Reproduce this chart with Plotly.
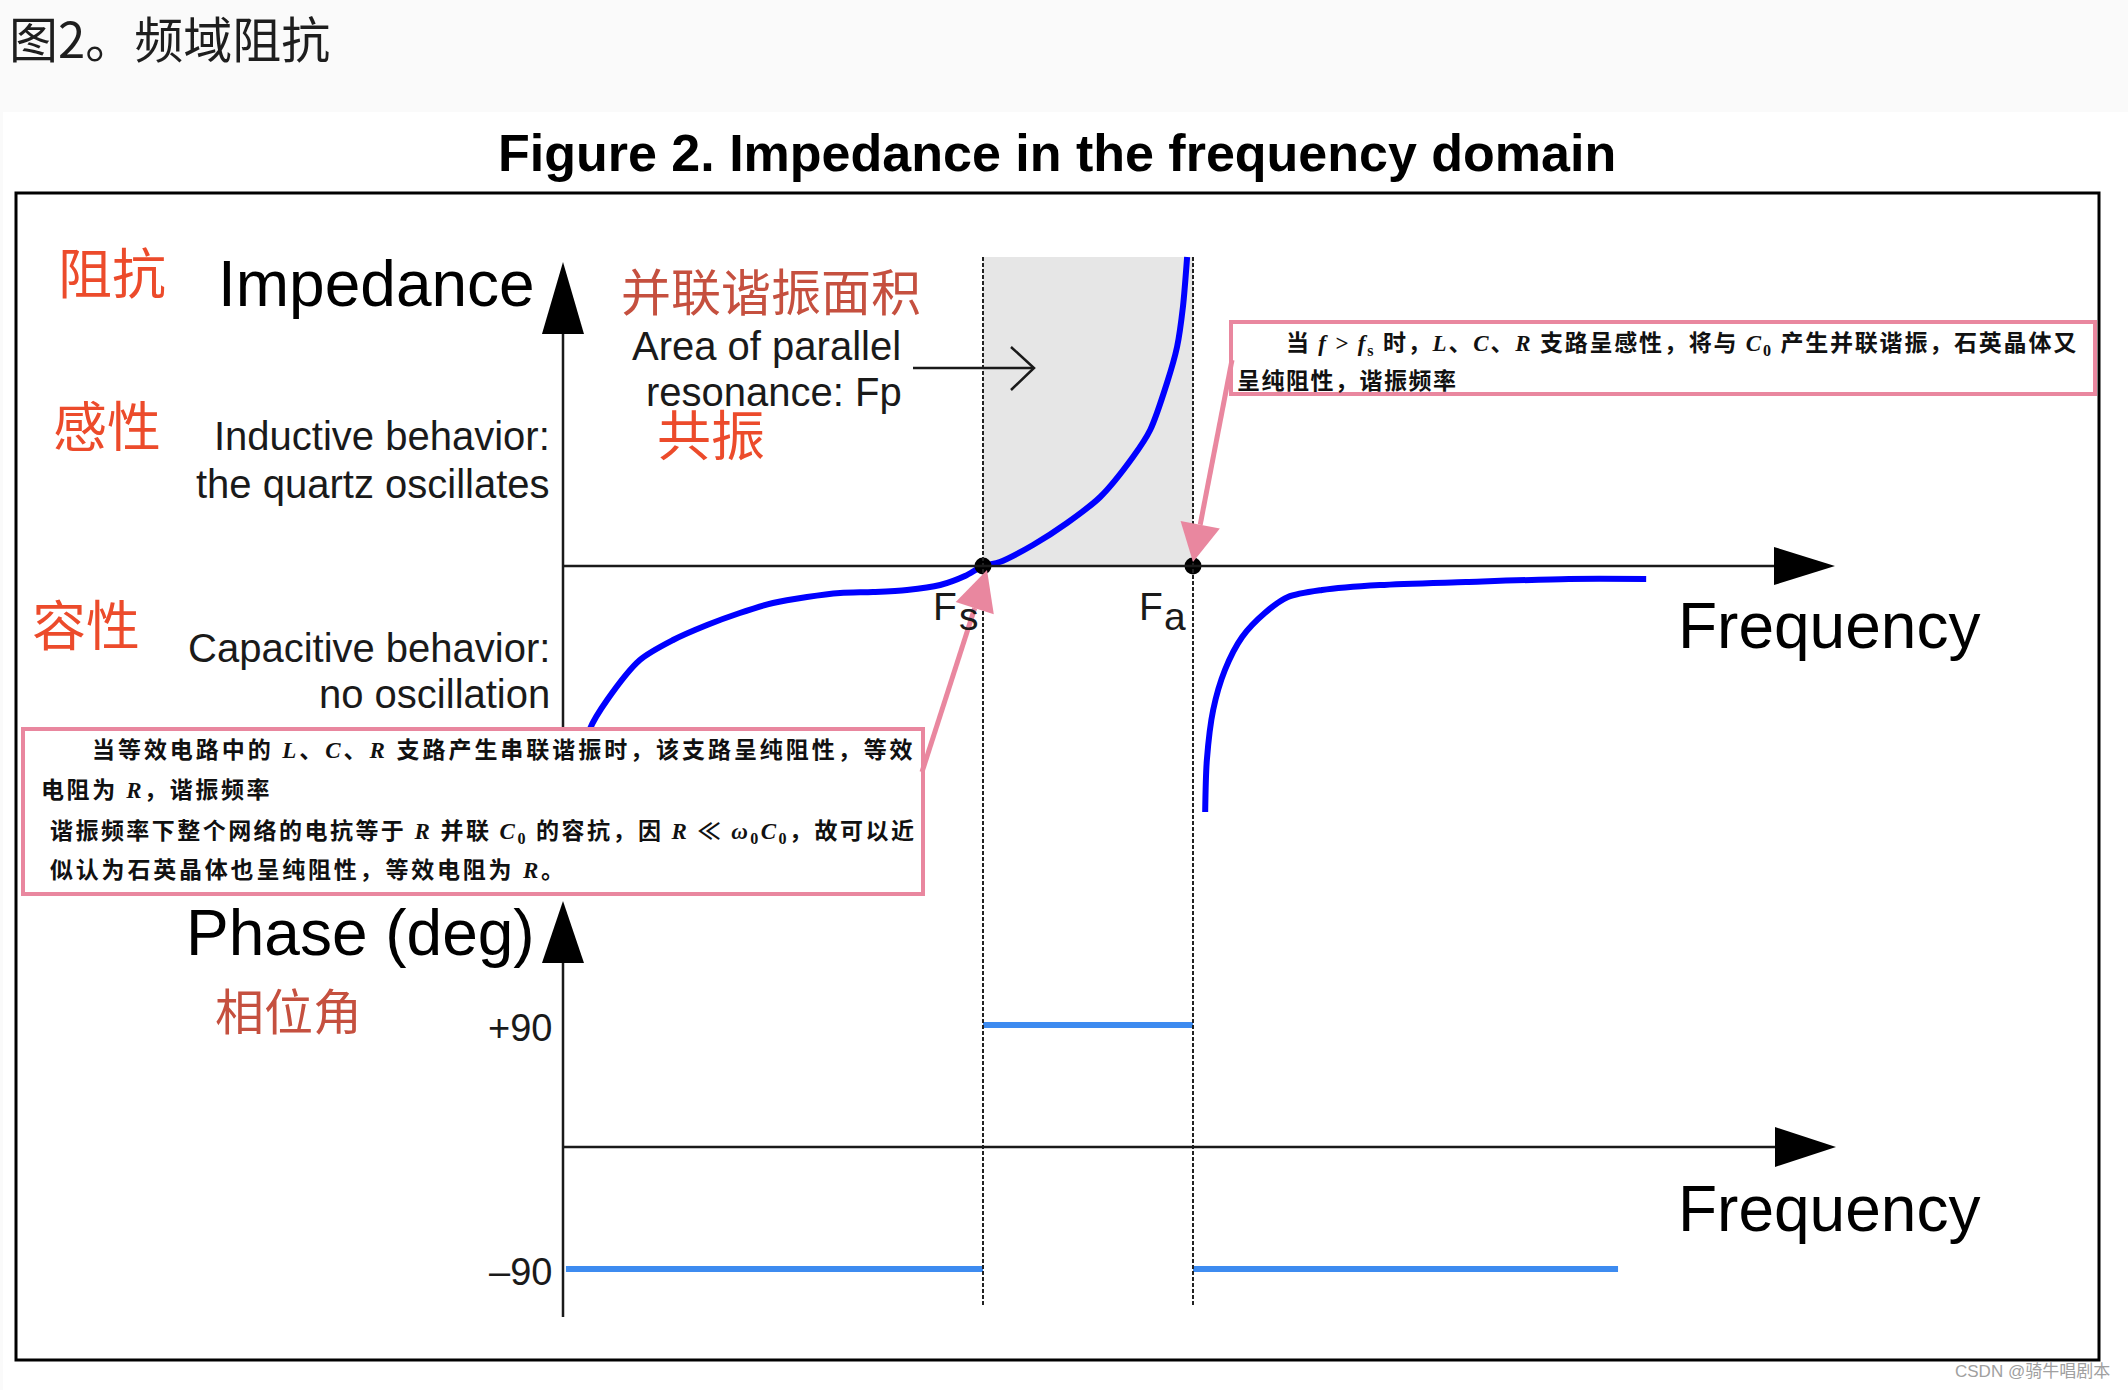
import math
import plotly.graph_objects as go

W, H = 2128, 1390

# ---------------- data ----------------
fs = 1.0   # series resonance frequency Fs
fa = 1.5   # parallel resonance frequency Fa

# impedance branch up to Fa (capacitive below Fs, inductive between Fs and Fa)
branch1_freq = [0.055, 0.064, 0.105, 0.183, 0.262, 0.343, 0.421, 0.500, 0.581, 0.660,
                0.738, 0.819, 0.898, 0.957, 1.000, 1.040, 1.119, 1.200, 1.279, 1.357,
                1.398, 1.438, 1.462, 1.476, 1.486]
branch1_imp = [-1.79, -1.63, -1.34, -0.94, -0.74, -0.59, -0.47, -0.37, -0.31, -0.27,
               -0.26, -0.24, -0.19, -0.10, 0.00, 0.04, 0.21, 0.43, 0.69, 1.09,
               1.36, 1.83, 2.19, 2.59, 3.09]

# impedance branch above Fa
branch2_freq = [1.529, 1.533, 1.548, 1.576, 1.617, 1.671, 1.726, 1.807, 1.945, 2.150, 2.395, 2.579]
branch2_imp = [-2.46, -1.94, -1.44, -1.04, -0.71, -0.47, -0.31, -0.24, -0.19, -0.16, -0.13, -0.13]

# phase (deg) segments
phase_freq = [0.007, 1.0, None, 1.0, 1.5, None, 1.5, 2.512]
phase_deg = [-90, -90, None, 90, 90, None, -90, -90]

phase_tick_vals = [90, -90]
phase_tick_text = ["+90", "–90"]

# ---------------- frame geometry (pixels) ----------------
X0_PX = 563
XPX_PER_UNIT = 420
X_MAX = (1835 - X0_PX) / XPX_PER_UNIT
YI0_PX = 566
YPX_PER_IMP = 100
YP0_PX = 1147
YPX_PER_DEG = 122 / 90


def px(x):
    return x / W


def py(y):
    return 1 - y / H


SANS = "Liberation Sans, Arial, sans-serif"
CJK = "Noto Sans CJK SC, sans-serif"
BOXF = "Liberation Serif, Noto Sans CJK SC, serif"
RED = "#ec4b2b"
BROWN = "#c5503f"
PINK = "#e9879f"
BLUE = "#0000ff"
PBLUE = "#3d8bf0"
INK = "#1a1a1a"

fig = go.Figure()

# impedance curves
fig.add_trace(go.Scatter(x=branch1_freq, y=branch1_imp, mode="lines",
                         line=dict(color=BLUE, width=6, shape="spline", smoothing=0.8),
                         xaxis="x", yaxis="y", hoverinfo="skip", showlegend=False))
fig.add_trace(go.Scatter(x=branch2_freq, y=branch2_imp, mode="lines",
                         line=dict(color=BLUE, width=6, shape="spline", smoothing=0.8),
                         xaxis="x", yaxis="y", hoverinfo="skip", showlegend=False))
# phase
fig.add_trace(go.Scatter(x=phase_freq, y=phase_deg, mode="lines",
                         line=dict(color=PBLUE, width=6),
                         xaxis="x", yaxis="y2", hoverinfo="skip", showlegend=False))
# Fs / Fa points
fig.add_trace(go.Scatter(x=[fs, fa], y=[0, 0], mode="markers",
                         marker=dict(color="black", size=17),
                         xaxis="x", yaxis="y", hoverinfo="skip", showlegend=False))

shapes = []
# background
shapes.append(dict(type="rect", xref="paper", yref="paper", x0=px(3), x1=1, y0=0, y1=py(112),
                   fillcolor="white", line=dict(width=0), layer="below"))
# shaded parallel-resonance area
shapes.append(dict(type="rect", xref="x", yref="y", x0=fs, x1=fa, y0=0, y1=max(branch1_imp),
                   fillcolor="#e6e6e6", line=dict(width=0), layer="below"))

# dotted verticals at Fs and Fa
for f in (fs, fa):
    shapes.append(dict(type="line", xref="x", yref="paper", x0=f, x1=f, y0=py(1305), y1=py(257),
                       line=dict(color="#222222", width=2, dash="4px,2px"), layer="above"))


def line_px(x0, y0, x1, y1, color, width):
    return dict(type="line", xref="paper", yref="paper", x0=px(x0), y0=py(y0), x1=px(x1), y1=py(y1),
                line=dict(color=color, width=width), layer="above")


def poly_px(points, fill, line_color=None, width=0, closed=True):
    path = "M " + " L ".join(f"{px(a):.6f},{py(b):.6f}" for a, b in points) + (" Z" if closed else "")
    return dict(type="path", xref="paper", yref="paper", path=path, fillcolor=fill,
                line=dict(color=line_color or "rgba(0,0,0,0)", width=width), layer="above")


# axes with arrow heads
shapes.append(line_px(563, 890, 563, 330, INK, 2.5))
shapes.append(poly_px([(563, 262), (542, 334), (584, 334)], "black"))
shapes.append(line_px(563, 566, 1778, 566, INK, 2.5))
shapes.append(poly_px([(1835, 566), (1774, 547), (1774, 585)], "black"))
shapes.append(line_px(563, 1317, 563, 960, INK, 2.5))
shapes.append(poly_px([(563, 901), (542, 963), (584, 963)], "black"))
shapes.append(line_px(563, 1147, 1778, 1147, INK, 2.5))
shapes.append(poly_px([(1836, 1147), (1775, 1127), (1775, 1167)], "black"))

# note boxes
shapes.append(dict(type="rect", xref="paper", yref="paper", x0=px(23), x1=px(923), y0=py(894), y1=py(729),
                   fillcolor="white", line=dict(color=PINK, width=4), layer="above"))
shapes.append(dict(type="rect", xref="paper", yref="paper", x0=px(1231), x1=px(2095), y0=py(394), y1=py(322),
                   fillcolor="white", line=dict(color=PINK, width=4), layer="above"))


def arrow(tail, tip, color, width, head_len, half):
    dx, dy = tip[0] - tail[0], tip[1] - tail[1]
    L = math.hypot(dx, dy)
    ux, uy = dx / L, dy / L
    bx, by = tip[0] - ux * head_len, tip[1] - uy * head_len
    nx, ny = -uy, ux
    out = [line_px(tail[0], tail[1], bx, by, color, width),
           poly_px([tip, (bx + nx * half, by + ny * half), (bx - nx * half, by - ny * half)], color)]
    return out


shapes += arrow((922, 772), (987, 570), PINK, 5, 40, 20)
shapes += arrow((1232, 360), (1193, 562), PINK, 5, 38, 20)

# thin black pointer into the shaded area
shapes.append(line_px(913, 368, 1033, 368, INK, 2.5))
shapes.append(poly_px([(1011, 347), (1034, 368), (1011, 390)], "rgba(0,0,0,0)", INK, 2.5, closed=False))

# outer frame
shapes.append(dict(type="rect", xref="paper", yref="paper", x0=px(16), x1=px(2099), y0=py(1360), y1=py(193),
                   fillcolor="rgba(0,0,0,0)", line=dict(color="black", width=3), layer="above"))

ann = []


def text(t, x, y, size, color=INK, family=SANS, xanchor="center", weight="normal"):
    ann.append(dict(text=t, x=px(x), y=py(y), xref="paper", yref="paper", xanchor=xanchor,
                    yanchor="middle", showarrow=False, align=xanchor if xanchor != "center" else "center",
                    font=dict(size=size, color=color, family=family, weight=weight)))


text("图2。频域阻抗", 7, 37, 49, "#1e1e1e", CJK, "left")
text("Figure 2. Impedance in the frequency domain", 1057, 153, 52, "black", SANS, "center", "bold")

text("阻抗", 112, 271, 54, RED, CJK)
text("感性", 107, 424, 54, RED, CJK)
text("容性", 86, 622, 54, RED, CJK)
text("Impedance", 537, 284, 64, "black", SANS, "right")
text("Inductive behavior:", 552, 436, 40, INK, SANS, "right")
text("the quartz oscillates", 552, 484, 40, INK, SANS, "right")
text("Capacitive behavior:", 552, 648, 40, INK, SANS, "right")
text("no oscillation", 552, 694, 40, INK, SANS, "right")

text("并联谐振面积", 771, 289, 50, BROWN, CJK)
text("Area of parallel", 766, 346, 40, INK, SANS)
text("resonance: Fp", 774, 392, 40, INK, SANS)
text("共振", 711, 433, 54, RED, CJK)

text("Frequency", 1676, 626, 64, "black", SANS, "left")
text("Frequency", 1676, 1209, 64, "black", SANS, "left")
text("Phase (deg)", 537, 933, 64, "black", SANS, "right")
text("相位角", 288, 1008, 49, BROWN, CJK)

# Fs / Fa labels (anchored on the data positions)
for f, sub, fx, sx in ((fs, "s", -24, -26), (fa, "a", -28, -31)):
    ann.append(dict(text="F", x=f, y=0, xref="x", yref="y", xanchor="right", yanchor="middle",
                    xshift=fx, yshift=-40, showarrow=False, font=dict(size=39, color=INK, family=SANS)))
    ann.append(dict(text=sub, x=f, y=0, xref="x", yref="y", xanchor="left", yanchor="middle",
                    xshift=sx, yshift=-50, showarrow=False, font=dict(size=39, color=INK, family=SANS)))

# phase tick labels
for v, t in zip(phase_tick_vals, phase_tick_text):
    ann.append(dict(text=t, x=0, y=v, xref="x", yref="y2", xanchor="right", yanchor="middle",
                    xshift=-9, yshift=-3, showarrow=False, font=dict(size=38, color=INK, family=SANS)))


def boxline(t, x, y, ls):
    text(f'<span style="letter-spacing:{ls}px">{t}</span>', x, y, 23, "#111111", BOXF, "left", "bold")


boxline("当等效电路中的 <i>L</i>、<i>C</i>、<i>R</i> 支路产生串联谐振时，该支路呈纯阻性，等效", 90, 750, 2.95)
boxline("电阻为 <i>R</i>，谐振频率", 39, 790, 2.6)
boxline("谐振频率下整个网络的电抗等于 <i>R</i> 并联 <i>C</i><sub>0</sub> 的容抗，因 <i>R</i> ≪ "
        "<i>ω</i><sub>0</sub><i>C</i><sub>0</sub>，故可以近", 48, 832, 2.45)
boxline("似认为石英晶体也呈纯阻性，等效电阻为 <i>R</i>。", 48, 871, 2.8)
boxline("当 <i>f</i> &gt; <i>f</i><sub>s</sub> 时，<i>L</i>、<i>C</i>、<i>R</i> 支路呈感性，将与 "
        "<i>C</i><sub>0</sub> 产生并联谐振，石英晶体又", 1284, 344, 1.8)
boxline("呈纯阻性，谐振频率", 1235, 381, 1.5)

text("CSDN @骑牛唱剧本", 2112, 1371, 17, "#a0a0a0", "Liberation Sans, Noto Sans CJK SC", "right")

fig.update_layout(
    template="none",
    width=W, height=H,
    margin=dict(l=0, r=0, t=0, b=0, pad=0),
    paper_bgcolor="#fafafa",
    plot_bgcolor="rgba(0,0,0,0)",
    showlegend=False,
    hovermode=False,
    xaxis=dict(domain=[px(563), px(1835)], range=[0, X_MAX], visible=False, anchor="y"),
    yaxis=dict(domain=[py(900), py(200)],
               range=[(YI0_PX - 900) / YPX_PER_IMP, (YI0_PX - 200) / YPX_PER_IMP],
               visible=False, anchor="x"),
    yaxis2=dict(domain=[py(1330), py(890)],
                range=[(YP0_PX - 1330) / YPX_PER_DEG, (YP0_PX - 890) / YPX_PER_DEG],
                visible=False, anchor="x"),
    shapes=shapes,
    annotations=ann,
)

fig.write_html("out.html", config={"displayModeBar": False},
               post_script="document.body.style.margin='0';document.body.style.overflow='hidden';")
